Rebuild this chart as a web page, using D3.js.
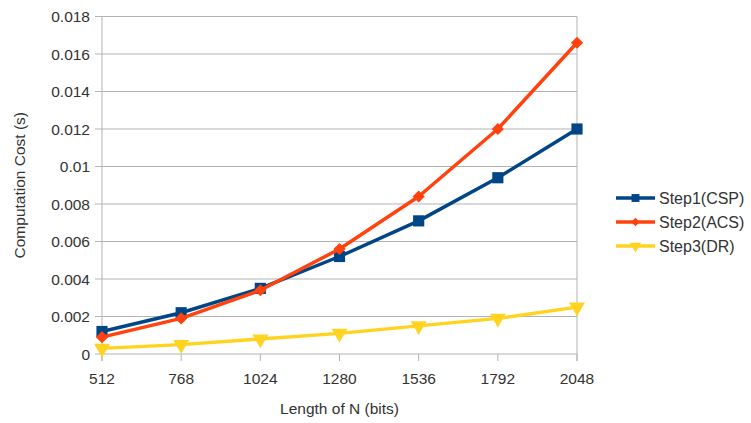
<!DOCTYPE html>
<html>
<head>
<meta charset="utf-8">
<script src="https://cdn.jsdelivr.net/npm/d3@7"></script>
<style>
  body { margin: 0; background: #fff; }
  text { font-family: "Liberation Sans", Arial, sans-serif; fill: #333; }
</style>
</head>
<body>
<div id="chart"></div>
<script>
const lengths = [512, 768, 1024, 1280, 1536, 1792, 2048];
const step1 = [0.0012, 0.0022, 0.0035, 0.0052, 0.0071, 0.0094, 0.0120];
const step2 = [0.0009, 0.0019, 0.0034, 0.0056, 0.0084, 0.0120, 0.0166];
const step3 = [0.0003, 0.0005, 0.0008, 0.0011, 0.0015, 0.0019, 0.0025];
const seriesNames = ["Step1(CSP)", "Step2(ACS)", "Step3(DR)"];
const yTicks = [0, 0.002, 0.004, 0.006, 0.008, 0.01, 0.012, 0.014, 0.016, 0.018];

const colors = ["#004586", "#ff420e", "#ffd320"];
const shapes = [d3.symbolSquare, d3.symbolSquare, d3.symbolTriangle];
const rotations = [0, 45, 180];

let svg = d3.select("#chart").append("svg")
    .attr("width", 751)
    .attr("height", 423);

const plotLeft = 102, plotRight = 577, plotTop = 16.5, plotBottom = 354;

let x = d3.scalePoint().domain(lengths).range([plotLeft, plotRight]);
let y = d3.scaleLinear().domain([0, 0.018]).range([plotBottom, plotTop]);

// grid
svg.append("g").selectAll("line")
    .data(yTicks)
    .enter().append("line")
    .attr("x1", plotLeft - 7).attr("x2", plotRight)
    .attr("y1", d => y(d)).attr("y2", d => y(d))
    .attr("stroke", "#b3b3b3").attr("stroke-width", 1);

// left + right frame
svg.append("line").attr("x1", plotLeft).attr("x2", plotLeft).attr("y1", plotTop).attr("y2", plotBottom + 7)
    .attr("stroke", "#b3b3b3");
svg.append("line").attr("x1", plotRight).attr("x2", plotRight).attr("y1", plotTop).attr("y2", plotBottom + 7)
    .attr("stroke", "#b3b3b3");
// x ticks
svg.append("g").selectAll("line")
    .data(lengths)
    .enter().append("line")
    .attr("x1", d => x(d)).attr("x2", d => x(d))
    .attr("y1", plotBottom).attr("y2", plotBottom + 7)
    .attr("stroke", "#b3b3b3");

// tick labels
svg.append("g").selectAll("text")
    .data(yTicks)
    .enter().append("text")
    .attr("x", plotLeft - 12)
    .attr("y", d => y(d) + 5.5)
    .attr("text-anchor", "end")
    .attr("font-size", 15.5)
    .text(d => d3.format("~g")(d));

svg.append("g").selectAll("text")
    .data(lengths)
    .enter().append("text")
    .attr("x", d => x(d))
    .attr("y", plotBottom + 30)
    .attr("text-anchor", "middle")
    .attr("font-size", 15.5)
    .text(d => d);

// axis titles
svg.append("text")
    .attr("x", (plotLeft + plotRight) / 2)
    .attr("y", 414)
    .attr("text-anchor", "middle")
    .attr("font-size", 15.5)
    .text("Length of N (bits)");

svg.append("text")
    .attr("transform", "translate(25," + (plotTop + plotBottom) / 2 + ") rotate(-90)")
    .attr("text-anchor", "middle")
    .attr("font-size", 15.5)
    .text("Computation Cost (s)");

// series
const allSeries = [step1, step2, step3];
let line = d3.line().x((d, i) => x(lengths[i])).y(d => y(d));
const markerSize = [125, 75, 110];

// draw DR first, then CSP, then ACS on top
[2, 0, 1].forEach(s => {
    let vals = allSeries[s];
    svg.append("path")
        .datum(vals)
        .attr("d", line)
        .attr("fill", "none")
        .attr("stroke", colors[s])
        .attr("stroke-width", 3.5)
        .attr("stroke-linejoin", "round");

    svg.append("g").selectAll("path")
        .data(vals)
        .enter().append("path")
        .attr("d", d3.symbol().type(shapes[s]).size(markerSize[s]))
        .attr("transform", (d, i) => "translate(" + x(lengths[i]) + "," + y(d) + ") rotate(" + rotations[s] + ")")
        .attr("fill", colors[s]);
});

// legend
seriesNames.forEach((name, i) => {
    let ly = 198 + i * 24;
    svg.append("line")
        .attr("x1", 616).attr("x2", 655)
        .attr("y1", ly).attr("y2", ly)
        .attr("stroke", colors[i]).attr("stroke-width", 3.5);
    svg.append("path")
        .attr("d", d3.symbol().type(shapes[i]).size(markerSize[i] * 0.5))
        .attr("transform", "translate(635.5," + ly + ") rotate(" + rotations[i] + ")")
        .attr("fill", colors[i]);
    svg.append("text")
        .attr("x", 659)
        .attr("y", ly + 5.5)
        .attr("font-size", 16)
        .text(name);
});
</script>
</body>
</html>
